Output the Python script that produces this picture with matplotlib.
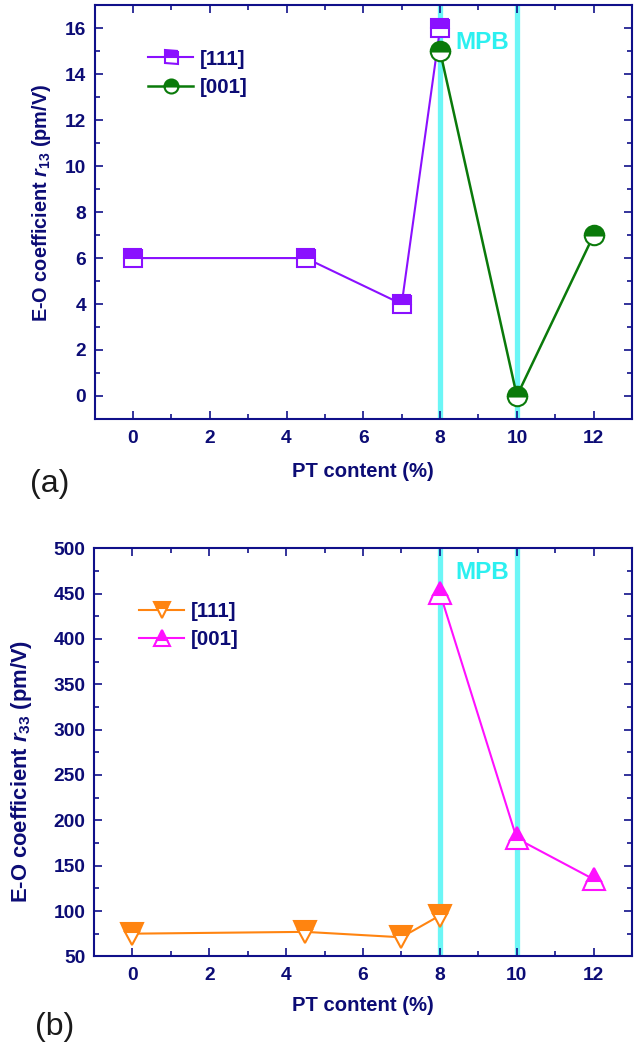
import matplotlib
matplotlib.use("Agg")
import matplotlib.pyplot as plt
from matplotlib.ticker import MultipleLocator

plt.rcParams['font.family'] = ['Liberation Sans', 'DejaVu Sans']
plt.rcParams['mathtext.fontset'] = 'custom'
plt.rcParams['mathtext.rm'] = 'Liberation Sans:bold'
plt.rcParams['mathtext.it'] = 'Liberation Sans:italic:bold'
plt.rcParams['mathtext.bf'] = 'Liberation Sans:bold'

# ---- data ----
x111_a = [0, 4.5, 7, 8]
r13_111 = [6, 6, 4, 16]
x001_a = [8, 10, 12]
r13_001 = [15, 0, 7]

x111_b = [0, 4.5, 7, 8]
r33_111 = [75, 77, 71, 95]
x001_b = [8, 10, 12]
r33_001 = [451, 180, 135]

mpb_lines = [8, 10]
xticks = [0, 2, 4, 6, 8, 10, 12]

NAVY = "#0c0c75"
SPINE = "#10108a"
CYAN = "#6cf6f6"
PURPLE = "#8a10ff"
GREEN = "#0a7a0a"
ORANGE = "#ff8410"
MAGENTA = "#ff10ff"

fig = plt.figure(figsize=(6.43, 10.5), dpi=100)
ax1 = fig.add_axes([0.147, 0.601, 0.836, 0.394])
ax2 = fig.add_axes([0.146, 0.0892, 0.837, 0.3886])


def style(ax, ymaj, ymin):
    ax.set_xlim(-1, 13)
    ax.set_xticks(xticks)
    ax.xaxis.set_minor_locator(MultipleLocator(1))
    ax.yaxis.set_major_locator(MultipleLocator(ymaj))
    ax.yaxis.set_minor_locator(MultipleLocator(ymin))
    for s in ax.spines.values():
        s.set_color(SPINE)
        s.set_linewidth(1.5)
    ax.tick_params(which='both', direction='in', top=True, right=True,
                   colors=SPINE, labelcolor=NAVY)
    ax.tick_params(which='major', length=6, width=1.2, labelsize=13.8)
    ax.tick_params(which='minor', length=3.5, width=1.2)
    ax.tick_params(axis='x', which='major', pad=8)
    ax.tick_params(axis='y', which='major', pad=6)
    for lab in ax.get_xticklabels() + ax.get_yticklabels():
        lab.set_fontweight('bold')
    for xv in mpb_lines:
        ax.axvline(xv, color=CYAN, lw=3.8, zorder=1)
    ax.set_xlabel("PT content (%)", fontsize=14.6, fontweight='bold', color=NAVY)
    ax.xaxis.label.set_va('center')
    ax.yaxis.label.set_va('center')


leg_kw = dict(loc='center left', frameon=False, borderpad=0, borderaxespad=0,
              handlelength=2.2, handletextpad=0.3, labelspacing=0.45,
              markerscale=0.72, numpoints=1,
              prop={'weight': 'bold', 'size': 14.8}, labelcolor=NAVY)

# ---- panel (a) ----
ax1.set_ylim(-1, 17)
style(ax1, 2, 1)
ax1.plot(x111_a, r13_111, color=PURPLE, lw=1.5, marker='s', ms=13,
         fillstyle='top', markerfacecolor=PURPLE, markerfacecoloralt='white',
         markeredgecolor=PURPLE, mew=1.5, label='[111]', zorder=3)
ax1.plot(x001_a, r13_001, color=GREEN, lw=1.8, marker='o', ms=14,
         fillstyle='top', markerfacecolor=GREEN, markerfacecoloralt='white',
         markeredgecolor=GREEN, mew=1.5, label='[001]', zorder=4)
ax1.text(8.41, 15.4, "MPB", color="#2cf0f0", fontsize=17.5, fontweight='bold',
         ha='left', va='center')
ax1.set_ylabel("E-O coefficient $\\mathit{r}_{13}$ (pm/V)", fontsize=14.3,
               fontweight='bold', color=NAVY)
ax1.yaxis.set_label_coords(-0.0995, 0.522)
ax1.xaxis.set_label_coords(0.5, -0.128)
ax1.legend(bbox_to_anchor=(0.0995, 0.8355), **leg_kw)

# ---- panel (b) ----
ax2.set_ylim(50, 500)
style(ax2, 50, 25)
ax2.plot(x111_b, r33_111, color=ORANGE, lw=1.5, marker='v', ms=16,
         fillstyle='top', markerfacecolor=ORANGE, markerfacecoloralt='white',
         markeredgecolor=ORANGE, mew=1.5, label='[111]', zorder=3)
ax2.plot(x001_b, r33_001, color=MAGENTA, lw=1.5, marker='^', ms=16,
         fillstyle='top', markerfacecolor=MAGENTA, markerfacecoloralt='white',
         markeredgecolor=MAGENTA, mew=1.5, label='[001]', zorder=4)
ax2.text(8.41, 473, "MPB", color="#2cf0f0", fontsize=17.5, fontweight='bold',
         ha='left', va='center')
ax2.set_ylabel("E-O coefficient $\\mathit{r}_{33}$ (pm/V)", fontsize=15.8,
               fontweight='bold', color=NAVY)
ax2.yaxis.set_label_coords(-0.135, 0.454)
ax2.xaxis.set_label_coords(0.5, -0.12)
ax2.legend(bbox_to_anchor=(0.084, 0.811), **leg_kw)

fig.text(50 / 643, 1 - 484 / 1050, "(a)", fontsize=23, color="#1a1a1a",
         ha='center', va='center')
fig.text(55 / 643, 1 - 1027 / 1050, "(b)", fontsize=23, color="#1a1a1a",
         ha='center', va='center')

fig.savefig("out.png", dpi=100)
